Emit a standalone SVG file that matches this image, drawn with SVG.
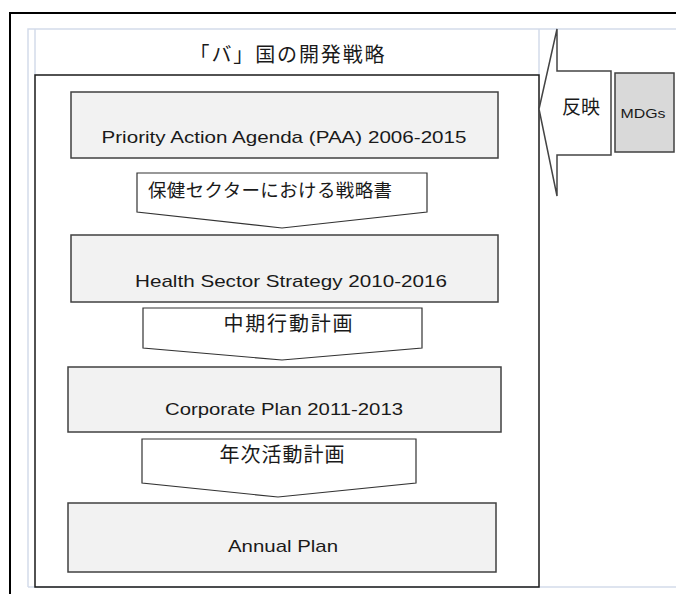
<svg xmlns="http://www.w3.org/2000/svg" width="676" height="594" viewBox="0 0 676 594">
<style>
  .frame{fill:none;stroke:#000;stroke-width:2}
  .grid{fill:none;stroke:#d3dbea;stroke-width:1.5}
  .inner{fill:none;stroke:#1a1a1a;stroke-width:1.5}
  .node{fill:#f2f2f2;stroke:#404040;stroke-width:1.5}
  .chev{fill:#fff;stroke:#333;stroke-width:1.2}
  .big{fill:#fff;stroke:#444;stroke-width:1.5}
  .mdg{fill:#d9d9d9;stroke:#404040;stroke-width:1.5}
  text{font-family:"Liberation Sans","Noto Sans CJK JP",sans-serif;fill:#1a1a1a;text-anchor:middle}
  .jp{font-family:"Noto Sans CJK JP","Noto Sans CJK SC",sans-serif}
  .lat{font-size:17px}
</style>
<rect width="676" height="594" fill="#fff"/>
<g id="frame">
  <path class="frame" d="M10,594 V13 H676"/>
  <path class="grid" d="M28,587 V29 H676 M35,29 V75 M539,29 V75 M28,587 H676"/>
  <rect class="inner" x="35" y="75" width="504" height="512"/>
  <text class="jp" x="287" y="62" font-size="20" textLength="195">「バ」国の開発戦略</text>
</g>
<g id="connectors">
  <g id="arrow-sector">
    <polygon class="chev" points="137,173 427,173 427,212 282,228 137,212"/>
    <text class="jp" x="270" y="197" font-size="18.5" textLength="244">保健セクターにおける戦略書</text>
  </g>
  <g id="arrow-mid">
    <polygon class="chev" points="143,308 422,308 422,348 282,360 143,348"/>
    <text class="jp" x="288" y="331" font-size="20" textLength="129">中期行動計画</text>
  </g>
  <g id="arrow-annual">
    <polygon class="chev" points="142,439 416,439 416,483 278,497 142,483"/>
    <text class="jp" x="282" y="462" font-size="20" textLength="125">年次活動計画</text>
  </g>
  <g id="arrow-reflect">
    <polygon class="big" points="539,109 557,29 557,71 611,71 611,155 557,155 557,196"/>
    <text class="jp" x="581" y="114" font-size="19" textLength="38">反映</text>
  </g>
</g>
<g id="node-mdgs">
  <rect class="mdg" x="615" y="73" width="59" height="79"/>
  <text x="643" y="118" font-size="13.5" textLength="45" lengthAdjust="spacingAndGlyphs">MDGs</text>
</g>
<g id="node-paa">
  <rect class="node" x="71" y="92" width="427" height="66"/>
  <text class="lat" x="284" y="143" textLength="365" lengthAdjust="spacingAndGlyphs">Priority Action Agenda (PAA) 2006-2015</text>
</g>
<g id="node-hss">
  <rect class="node" x="71" y="235" width="427" height="67"/>
  <text class="lat" x="291" y="287" textLength="312" lengthAdjust="spacingAndGlyphs">Health Sector Strategy 2010-2016</text>
</g>
<g id="node-corporate">
  <rect class="node" x="68" y="367" width="433" height="65"/>
  <text class="lat" x="284" y="415" textLength="238" lengthAdjust="spacingAndGlyphs">Corporate Plan 2011-2013</text>
</g>
<g id="node-annual">
  <rect class="node" x="68" y="503" width="428" height="69"/>
  <text class="lat" x="283" y="552" textLength="110" lengthAdjust="spacingAndGlyphs">Annual Plan</text>
</g>
</svg>
